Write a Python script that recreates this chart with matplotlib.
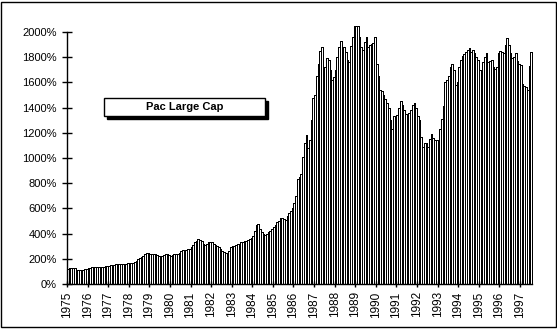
import matplotlib.pyplot as plt
from matplotlib.patches import Rectangle
from matplotlib.ticker import FuncFormatter

# Monthly cumulative value (%), Jan 1975 onwards
y1975 = [120, 125, 128, 127, 125, 115, 110, 110, 112, 115, 118, 118]
y1976 = [128, 130, 134, 135, 136, 135, 135, 136, 137, 138, 140, 140]
y1977 = [142, 150, 150, 152, 155, 155, 157, 158, 160, 160, 162, 165]
y1978 = [165, 168, 170, 175, 185, 195, 205, 215, 225, 235, 245, 250]
y1979 = [240, 235, 240, 238, 230, 225, 222, 225, 230, 235, 238, 230]
y1980 = [225, 230, 235, 235, 240, 250, 265, 270, 268, 270, 275, 280]
y1981 = [290, 310, 330, 345, 355, 350, 340, 320, 310, 315, 330, 336]
y1982 = [330, 320, 310, 300, 290, 280, 265, 255, 250, 248, 265, 290]
y1983 = [300, 305, 310, 315, 320, 330, 335, 340, 345, 350, 355, 365]
y1984 = [380, 420, 470, 478, 440, 410, 395, 390, 400, 410, 420, 435]
y1985 = [450, 470, 490, 500, 520, 525, 515, 510, 540, 560, 580, 600]
y1986 = [640, 700, 830, 850, 870, 1010, 1120, 1180, 1080, 1140, 1300, 1480]
y1987 = [1500, 1650, 1750, 1850, 1880, 1700, 1720, 1790, 1780, 1700, 1620, 1640]
y1988 = [1700, 1800, 1880, 1930, 1850, 1880, 1840, 1780, 1760, 1890, 1960, 2050]
y1989 = [2050, 2050, 1964, 1884, 1858, 1920, 1964, 1884, 1898, 1905, 1911, 1964]
y1990 = [1750, 1650, 1540, 1530, 1500, 1470, 1440, 1400, 1300, 1230, 1330, 1290]
y1991 = [1340, 1400, 1450, 1420, 1380, 1350, 1340, 1360, 1380, 1420, 1440, 1400]
y1992 = [1330, 1300, 1170, 1090, 1120, 1120, 1090, 1150, 1190, 1160, 1140, 1145]
y1993 = [1140, 1230, 1310, 1410, 1600, 1620, 1650, 1720, 1750, 1700, 1580, 1600]
y1994 = [1725, 1780, 1810, 1825, 1845, 1860, 1870, 1845, 1860, 1830, 1805, 1780]
y1995 = [1700, 1670, 1760, 1800, 1830, 1760, 1770, 1775, 1725, 1710, 1720, 1830]
y1996 = [1850, 1845, 1830, 1900, 1950, 1900, 1830, 1790, 1800, 1830, 1770, 1750]
y1997 = [1740, 1590, 1570, 1560, 1540, 1730, 1840]

values = (y1975 + y1976 + y1977 + y1978 + y1979 + y1980 + y1981 + y1982
          + y1983 + y1984 + y1985 + y1986 + y1987 + y1988 + y1989 + y1990
          + y1991 + y1992 + y1993 + y1994 + y1995 + y1996 + y1997)
years = list(range(1975, 1998))
series_name = "Pac Large Cap"

plt.rcParams['font.family'] = ['Liberation Sans', 'DejaVu Sans']

fig = plt.figure(figsize=(5.57, 3.30), dpi=100)
ax = fig.add_axes([67 / 557, 46 / 330, (532 - 67) / 557, 252 / 330])

months = list(range(len(values)))
ax.bar(months, values, width=1.0, align='edge', color='white',
       edgecolor='black', linewidth=0.4, clip_on=False, antialiased=False)

ax.set_xlim(0, len(values))
ax.set_ylim(0, 2000)
ax.set_yticks(range(0, 2001, 200))
ax.yaxis.set_major_formatter(FuncFormatter(lambda v, p: f"{int(v)}%"))
ax.set_xticks([12 * i for i in range(len(years))])
ax.set_xticklabels([str(y) for y in years], rotation=90)

ax.spines['top'].set_visible(False)
ax.spines['right'].set_visible(False)
ax.spines['left'].set_linewidth(1)
ax.spines['bottom'].set_linewidth(1)
ax.tick_params(axis='y', direction='inout', length=6.5, width=1,
               labelsize=8, pad=4)
ax.tick_params(axis='x', direction='inout', length=4.5, width=1,
               labelsize=8.5, pad=3)

# legend box with drop shadow
lx, ly, lw, lh = 104 / 557, 1 - 116 / 330, 161 / 557, 18 / 330
fig.patches.append(Rectangle((lx + 3 / 557, ly - 3 / 330), lw, lh,
                             transform=fig.transFigure, facecolor='black',
                             edgecolor='black', zorder=5))
fig.patches.append(Rectangle((lx, ly), lw, lh, transform=fig.transFigure,
                             facecolor='white', edgecolor='black',
                             linewidth=1, zorder=6))
fig.text(lx + lw / 2, ly + lh / 2, series_name, ha='center', va='center',
         fontsize=8, fontweight='bold', zorder=7)

# outer frame
fig.patches.append(Rectangle((1 / 557, 3 / 330), 555 / 557, 325 / 330,
                             transform=fig.transFigure, fill=False,
                             edgecolor='black', linewidth=1))

fig.savefig('out.png', dpi=100)
